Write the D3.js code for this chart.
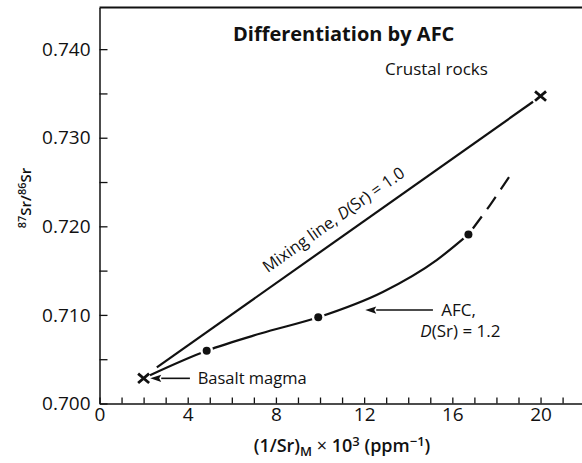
<!DOCTYPE html>
<html>
<head>
<meta charset="utf-8">
<script src="https://cdn.jsdelivr.net/npm/d3@7"></script>
<style>
  body { margin: 0; background: #fff; }
  svg text { font-family: "Open Sans", "Noto Sans", sans-serif; fill: #111; }
</style>
</head>
<body>
<svg id="chart" width="582" height="463"></svg>
<script>
// End members: basalt magma and crustal rocks, (1/Sr)x10^3 vs 87Sr/86Sr
const endMembers = [
  { name: "Basalt magma", x: 2.0, y: 0.70284 },
  { name: "Crustal rocks", x: 20.0, y: 0.7347 }
];

// Simple two-component mixing line, D(Sr) = 1.0
const mixingLine = [[2.6, 0.70408], [19.66, 0.73406]];

// AFC path, D(Sr) = 1.2 (solid part, then the dashed extension)
const afcSolid = [
  [2.29, 0.70320], [4.86, 0.70596], [7.3, 0.70790], [9.92, 0.70973],
  [12.87, 0.71262], [15.29, 0.71619], [16.73, 0.71909]
];
const afcDashed = [[16.73, 0.71909], [17.71, 0.72240], [18.57, 0.72556]];
const afcDots = [[4.86, 0.70596], [9.92, 0.70973], [16.73, 0.71909]];

// Axis ticks
const xTickValues = [0,1,2,3,4,5,6,7,8,9,10,11,12,13,14,15,16,17,18,19,20,21];
const xTickLabels = [0, 4, 8, 12, 16, 20];
const yTickValues = [0.700,0.705,0.710,0.715,0.720,0.725,0.730,0.735,0.740];
const yTickLabels = [0.700, 0.710, 0.720, 0.730, 0.740];

const svg = d3.select("#chart");
const x = d3.scaleLinear().domain([0, 21.88]).range([99.5, 582]);
const y = d3.scaleLinear().domain([0.700, 0.7447]).range([403.5, 7.5]);

// Axes with inward ticks
const xAxis = d3.axisBottom(x)
  .tickValues(xTickValues)
  .tickSize(-6).tickSizeOuter(0).tickPadding(4)
  .tickFormat(d => xTickLabels.includes(d) ? d : "");
const yAxis = d3.axisLeft(y)
  .tickValues(yTickValues)
  .tickSize(-8).tickSizeOuter(0).tickPadding(9)
  .tickFormat(d => yTickLabels.some(v => Math.abs(v - d) < 1e-9) ? d3.format(".3f")(d) : "");

const gx = svg.append("g").attr("transform", `translate(0,${y.range()[0]})`).call(xAxis);
const gy = svg.append("g").attr("transform", `translate(${x.range()[0]},0)`).call(yAxis);
[gx, gy].forEach(g => {
  g.select(".domain").attr("stroke", "#111").attr("stroke-width", 1.5);
  g.selectAll(".tick line").attr("stroke", "#111").attr("stroke-width", 1.3);
  g.selectAll(".tick text").attr("font-size", 19).attr("font-family", '"Open Sans", sans-serif').attr("fill", "#111");
});

// Top frame line
svg.append("line")
  .attr("x1", x.range()[0]).attr("x2", x.range()[1])
  .attr("y1", y.range()[1]).attr("y2", y.range()[1])
  .attr("stroke", "#111").attr("stroke-width", 1.8);

const line = d3.line().x(d => x(d[0])).y(d => y(d[1]));
const curve = d3.line().x(d => x(d[0])).y(d => y(d[1])).curve(d3.curveMonotoneX);

// Mixing line
svg.append("path").datum(mixingLine).attr("d", line)
  .attr("fill", "none").attr("stroke", "#111").attr("stroke-width", 2.2);

// AFC curve
svg.append("path").datum(afcSolid).attr("d", curve)
  .attr("fill", "none").attr("stroke", "#111").attr("stroke-width", 2.2);
svg.append("path").datum(afcDashed).attr("d", curve)
  .attr("fill", "none").attr("stroke", "#111").attr("stroke-width", 2.2)
  .attr("stroke-dasharray", "15 9").attr("stroke-dashoffset", 16.5);

// Dots on the AFC path, each with a white halo breaking the line
svg.selectAll("circle.halo").data(afcDots).join("circle")
  .attr("class", "halo")
  .attr("cx", d => x(d[0])).attr("cy", d => y(d[1]))
  .attr("r", 6.5).attr("fill", "#fff");
svg.selectAll("circle.afc").data(afcDots).join("circle")
  .attr("class", "afc")
  .attr("cx", d => x(d[0])).attr("cy", d => y(d[1]))
  .attr("r", 4).attr("fill", "#111");

// End-member crosses
const cs = 5.5;
svg.selectAll("path.cross").data(endMembers).join("path")
  .attr("class", "cross")
  .attr("d", d => {
    const cx = x(d.x), cy = y(d.y);
    return `M${cx - cs},${cy - cs * 0.85}L${cx + cs},${cy + cs * 0.85}M${cx - cs},${cy + cs * 0.85}L${cx + cs},${cy - cs * 0.85}`;
  })
  .attr("stroke", "#111").attr("stroke-width", 2.8).attr("fill", "none");

// Arrow helper: shaft plus a narrow filled head
function arrow(x1, y1, x2, y2) {
  const px1 = x(x1), py1 = y(y1), px2 = x(x2), py2 = y(y2);
  const ang = Math.atan2(py2 - py1, px2 - px1);
  const L = 11, W = 3.6;
  const bx = px2 - L * Math.cos(ang), by = py2 - L * Math.sin(ang);
  svg.append("line").attr("x1", px1).attr("y1", py1).attr("x2", bx).attr("y2", by)
    .attr("stroke", "#111").attr("stroke-width", 1.6);
  svg.append("path")
    .attr("d", `M${px2},${py2}L${bx - W * Math.sin(ang)},${by + W * Math.cos(ang)}L${bx + 2 * Math.cos(ang)},${by + 2 * Math.sin(ang)}L${bx + W * Math.sin(ang)},${by - W * Math.cos(ang)}Z`)
    .attr("fill", "#111");
}

// Basalt magma label
arrow(4.1, 0.70284, 2.3, 0.70284);
svg.append("text").attr("x", x(4.45)).attr("y", y(0.70284)).attr("dy", "0.35em")
  .attr("font-size", 16.5).text("Basalt magma");

// Crustal rocks label
svg.append("text").attr("x", x(12.95)).attr("y", 75)
  .attr("font-size", 17).text("Crustal rocks");

// AFC label
arrow(15.12, 0.71055, 12.05, 0.71055);
svg.append("text").attr("x", x(15.5)).attr("y", y(0.71055)).attr("dy", "0.35em")
  .attr("font-size", 17).text("AFC,");
const dl = svg.append("text").attr("x", x(14.55)).attr("y", 337).attr("font-size", 17);
dl.append("tspan").attr("font-style", "italic").text("D");
dl.append("tspan").text("(Sr) = 1.2");

// Mixing line label, rotated along the line
const m0 = mixingLine[0], m1 = mixingLine[1];
const angle = Math.atan2(y(m1[1]) - y(m0[1]), x(m1[0]) - x(m0[0])) * 180 / Math.PI;
const lx = 11.1, ly = m0[1] + (m1[1] - m0[1]) * (lx - m0[0]) / (m1[0] - m0[0]);
const ml = svg.append("text")
  .attr("transform", `translate(${x(lx)},${y(ly)}) rotate(${angle}) translate(0,-13)`)
  .attr("text-anchor", "middle").attr("font-size", 16.5);
ml.append("tspan").text("Mixing line, ");
ml.append("tspan").attr("font-style", "italic").text("D");
ml.append("tspan").text("(Sr) = 1.0");

// Title
svg.append("text").attr("x", 233).attr("y", 41)
  .attr("font-size", 20).attr("font-weight", 700).text("Differentiation by AFC");

// X axis title
const xt = svg.append("text").attr("x", 342).attr("y", 452)
  .attr("text-anchor", "middle").attr("font-size", 18).attr("font-weight", 600);
xt.append("tspan").text("(1/Sr)");
xt.append("tspan").attr("font-size", 13).attr("dy", 4).text("M");
xt.append("tspan").attr("dy", -4).attr("font-weight", 400).text(" \u00d7 ");
xt.append("tspan").text("10");
xt.append("tspan").attr("font-size", 13).attr("dy", -6).text("3");
xt.append("tspan").attr("dy", 6).text(" (ppm");
xt.append("tspan").attr("font-size", 13).attr("dy", -6).text("\u22121");
xt.append("tspan").attr("dy", 6).text(")");

// Y axis title
const yt = svg.append("text")
  .attr("transform", `translate(31,198) rotate(-90)`)
  .attr("text-anchor", "middle").attr("font-size", 15).attr("font-weight", 600);
yt.append("tspan").attr("font-size", 11).attr("dy", -5).text("87");
yt.append("tspan").attr("dy", 5).text("Sr/");
yt.append("tspan").attr("font-size", 11).attr("dy", -5).text("86");
yt.append("tspan").attr("dy", 5).text("Sr");
</script>
</body>
</html>
